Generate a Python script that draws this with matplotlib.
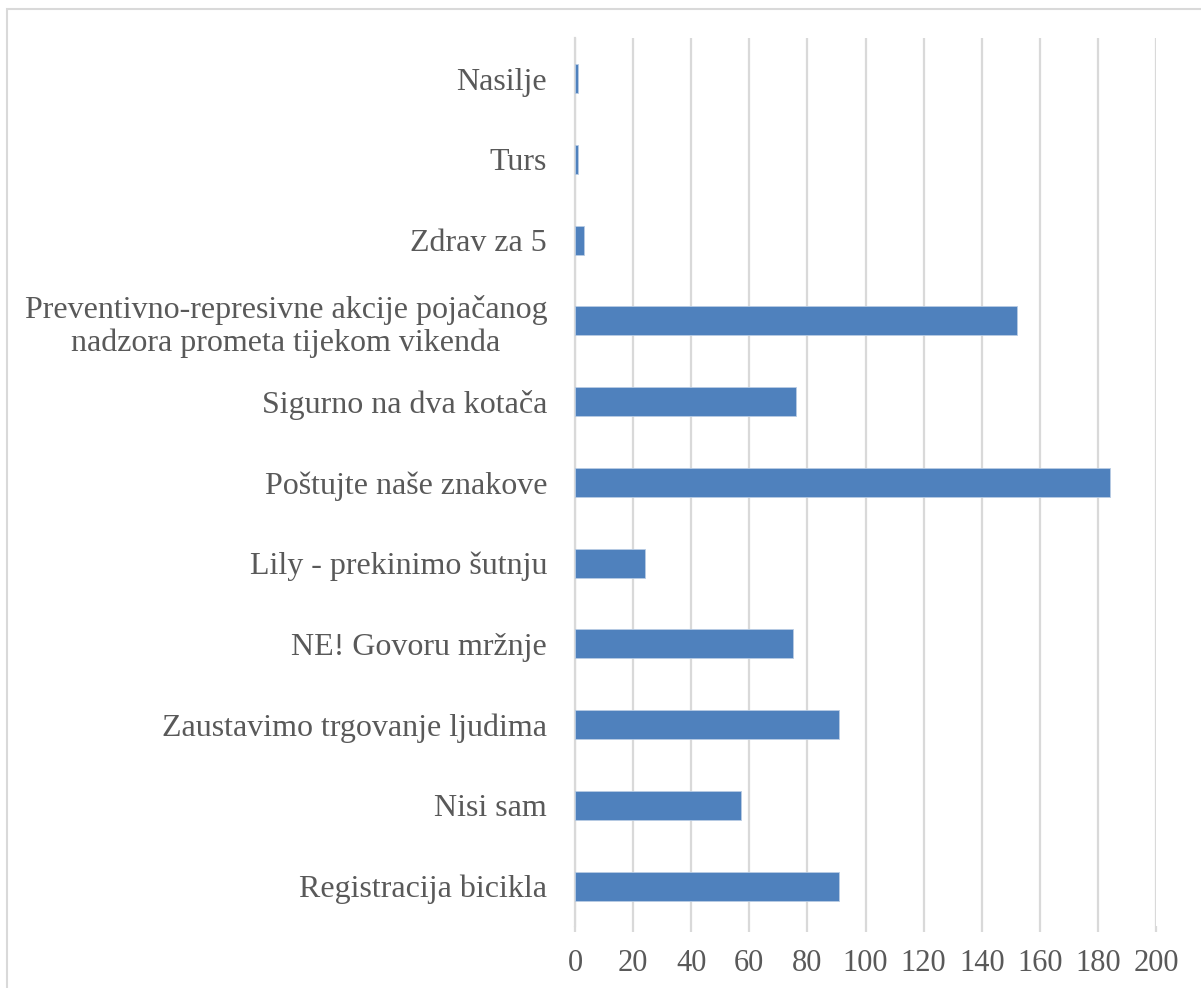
import matplotlib
matplotlib.use("Agg")
import matplotlib.pyplot as plt
from matplotlib.patches import Rectangle

categories = [
    "Registracija bicikla",
    "Nisi sam",
    "Zaustavimo trgovanje ljudima",
    "NE! Govoru mržnje",
    "Lily - prekinimo šutnju",
    "Poštujte naše znakove",
    "Sigurno na dva kotača",
    "Preventivno-represivne akcije pojačanog\nnadzora prometa tijekom vikenda",
    "Zdrav za 5",
    "Turs",
    "Nasilje",
]
values = [91, 57, 91, 75, 24, 184, 76, 152, 3, 1, 1]
x_ticks = [0, 20, 40, 60, 80, 100, 120, 140, 160, 180, 200]

W, H = 1201, 988
fig = plt.figure(figsize=(W / 100, H / 100), dpi=100)
fig.patch.set_facecolor("white")

# outer chart border (extends off-canvas right/bottom)
fig.add_artist(Rectangle((7 / W, -0.05), 1.2, 1 - 9 / H + 0.05,
                         transform=fig.transFigure, fill=False,
                         edgecolor="#D9D9D9", linewidth=1.5))

left, right = 575 / W, 1156 / W
top, bottom = 1 - 38.4 / H, 1 - 926.4 / H
ax = fig.add_axes([left, bottom, right - left, top - bottom])

y = list(range(len(categories)))
ax.barh(y, values, height=0.36, color="#4F81BD", edgecolor="#B8CCE4",
        linewidth=0.6, zorder=3)

ax.set_xlim(0, 200)
ax.set_ylim(-0.5, len(categories) - 0.5)
ax.set_xticks(x_ticks)
ax.set_xticklabels([str(t) for t in x_ticks])
ax.set_yticks(y)
ax.set_yticklabels(categories, multialignment="center", linespacing=1.15)

ax.grid(axis="x", color="#D9D9D9", linewidth=1.6, zorder=0)
ax.set_axisbelow(True)
for s in ["top", "right", "bottom"]:
    ax.spines[s].set_visible(False)
ax.spines["left"].set_color("#D9D9D9")
ax.spines["left"].set_linewidth(1.6)
ax.spines["left"].set_zorder(1)

font = "Liberation Serif"
ax.tick_params(axis="x", length=4.5, width=1.6, color="#D9D9D9",
               pad=12, labelsize=22, labelcolor="#595959")
ax.tick_params(axis="y", length=0, pad=20, labelsize=23, labelcolor="#595959")
for lab in ax.get_xticklabels() + ax.get_yticklabels():
    lab.set_fontfamily(font)

fig.savefig("out.png", dpi=100, facecolor="white")
